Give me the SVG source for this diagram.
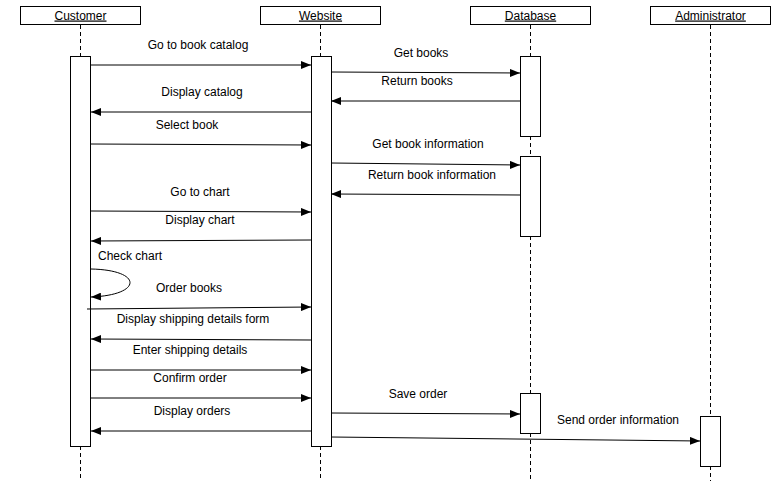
<svg xmlns="http://www.w3.org/2000/svg" width="784" height="481" viewBox="0 0 784 481">
<style>
.head{fill:#fff;stroke:#000;stroke-width:1}
.ht{font-family:"Liberation Sans",Arial,sans-serif;font-size:12px;text-anchor:middle;text-decoration:underline;fill:#000}
.life{stroke:#000;stroke-width:1;stroke-dasharray:4 3;fill:none}
.act{fill:#fff;stroke:#000;stroke-width:1}
.msg{stroke:#000;stroke-width:1;fill:none;marker-end:url(#ah)}
.lbl{font-family:"Liberation Sans",Arial,sans-serif;font-size:12px;text-anchor:middle;fill:#000}
</style>
<defs>
<marker id="ah" markerWidth="10" markerHeight="8" refX="10" refY="4" orient="auto" markerUnits="userSpaceOnUse">
<path d="M0,0 L10,4 L0,8 Z" fill="#000"/>
</marker>
</defs>
<rect width="784" height="481" fill="#fff"/>
<g id="customer">
<rect class="head" x="20.5" y="6.5" width="120" height="18"/>
<text class="ht" x="80.5" y="19.5">Customer</text>
<path class="life" d="M80.5,25 V56 M80.5,446 V481"/>
<rect class="act" x="70.5" y="56.5" width="20" height="390"/>
</g>
<g id="website">
<rect class="head" x="260.5" y="6.5" width="120" height="18"/>
<text class="ht" x="320.5" y="19.5">Website</text>
<path class="life" d="M320.5,25 V56 M320.5,446 V481"/>
<rect class="act" x="311.5" y="56.5" width="20" height="390"/>
</g>
<g id="database">
<rect class="head" x="470.5" y="6.5" width="120" height="18"/>
<text class="ht" x="530.5" y="19.5">Database</text>
<path class="life" d="M530.5,25 V56 M530.5,136 V156 M530.5,236 V393 M530.5,433 V481"/>
<rect class="act" x="520.5" y="56.5" width="20" height="80"/>
<rect class="act" x="520.5" y="156.5" width="20" height="80"/>
<rect class="act" x="520.5" y="393.5" width="20" height="40"/>
</g>
<g id="administrator">
<rect class="head" x="650.5" y="6.5" width="120" height="18"/>
<text class="ht" x="710.5" y="19.5">Administrator</text>
<path class="life" d="M710.5,25 V416 M710.5,466 V481"/>
<rect class="act" x="700.5" y="416.5" width="20" height="50"/>
</g>
<g id="connectors">
<path class="msg" d="M91,65 L311,65"/>
<path class="msg" d="M331,72 L520,73"/>
<path class="msg" d="M520,101 L331,101"/>
<path class="msg" d="M311,112 L91,112"/>
<path class="msg" d="M91,144 L311,145"/>
<path class="msg" d="M331,163 L520,165"/>
<path class="msg" d="M520,195 L331,194"/>
<path class="msg" d="M91,211 L311,212"/>
<path class="msg" d="M311,240 L91,241"/>
<path class="msg" d="M91,269 C143,270 143,295 91,297"/>
<path class="msg" d="M87,309 L311,307"/>
<path class="msg" d="M311,340 L91,339"/>
<path class="msg" d="M91,370 L311,370"/>
<path class="msg" d="M91,398 L311,398"/>
<path class="msg" d="M331,413 L520,414"/>
<path class="msg" d="M311,431 L91,431"/>
<path class="msg" d="M331,437 L700,441"/>
</g>
<g id="labels">
<text class="lbl" x="198" y="49">Go to book catalog</text>
<text class="lbl" x="421" y="57">Get books</text>
<text class="lbl" x="417" y="85">Return books</text>
<text class="lbl" x="202" y="96">Display catalog</text>
<text class="lbl" x="187" y="129">Select book</text>
<text class="lbl" x="428" y="148">Get book information</text>
<text class="lbl" x="432" y="179">Return book information</text>
<text class="lbl" x="200" y="196">Go to chart</text>
<text class="lbl" x="200" y="224">Display chart</text>
<text class="lbl" x="98" y="260" style="text-anchor:start">Check chart</text>
<text class="lbl" x="189" y="292">Order books</text>
<text class="lbl" x="193" y="323">Display shipping details form</text>
<text class="lbl" x="190" y="354">Enter shipping details</text>
<text class="lbl" x="190" y="382">Confirm order</text>
<text class="lbl" x="418" y="398">Save order</text>
<text class="lbl" x="192" y="415">Display orders</text>
<text class="lbl" x="618" y="424">Send order information</text>
</g>
</svg>
